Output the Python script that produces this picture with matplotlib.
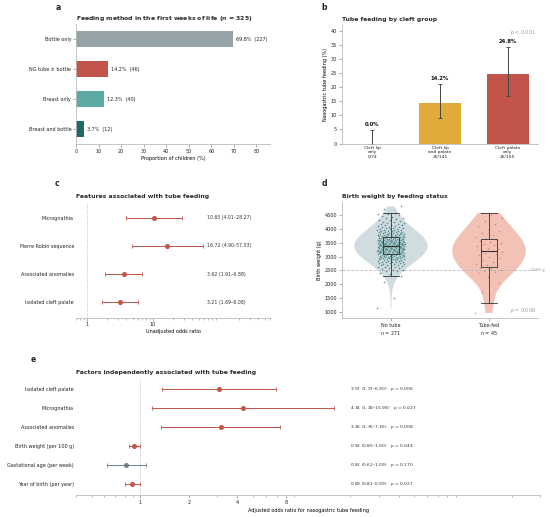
import numpy as np
import matplotlib
matplotlib.use("Agg")
import matplotlib.pyplot as plt
import matplotlib.transforms as mtransforms

# ---- data ----
feed_labels = ['Bottle only', 'NG tube ± bottle', 'Breast only', 'Breast and bottle']
feed_pct = [69.8, 14.2, 12.3, 3.7]
feed_n = [227, 46, 40, 12]
feed_colors = ['#95A3A8', '#C2544A', '#5DAAA3', '#1E6B66']

cleft_labels = ['Cleft lip\nonly\n0/74', 'Cleft lip\nand palate\n20/141', 'Cleft palate\nonly\n26/105']
cleft_pct = [0.0, 14.2, 24.8]
cleft_lo = [0.0, 9.0, 17.0]
cleft_hi = [4.9, 21.1, 34.2]
cleft_colors = ['#9AA7AD', '#E2A93B', '#C2544A']

unadj_labels = ['Micrognathia', 'Pierre Robin sequence', 'Associated anomalies', 'Isolated cleft palate']
unadj_or = [10.65, 16.72, 3.62, 3.21]
unadj_lo = [4.01, 4.90, 1.91, 1.69]
unadj_hi = [28.27, 57.03, 6.88, 6.08]

adj_labels = ['Isolated cleft palate', 'Micrognathia', 'Associated anomalies',
              'Birth weight (per 100 g)', 'Gestational age (per week)', 'Year of birth (per year)']
adj_or = [3.07, 4.34, 3.16, 0.92, 0.82, 0.89]
adj_lo = [1.37, 1.18, 1.35, 0.85, 0.62, 0.81]
adj_hi = [6.90, 15.98, 7.36, 1.00, 1.09, 0.99]
adj_p = ['0.006', '0.027', '0.008', '0.044', '0.170', '0.027']

# birth weights (g), estimated from the strip / violin / box
bw_no_tube = [
    1150, 1500, 2100,
    2290, 2360,
    2420, 2465, 2490,
    2505, 2530, 2560, 2580, 2595,
    2608, 2625, 2640, 2660, 2672, 2685, 2698,
    2702, 2715, 2726, 2740, 2750, 2763, 2775, 2786, 2795,
    2800, 2810, 2818, 2830, 2840, 2850, 2858, 2866, 2878, 2886, 2895,
    2900, 2906, 2915, 2920, 2930, 2936, 2945, 2950, 2958, 2966, 2972, 2980, 2988, 2995,
    3000, 3005, 3012, 3018, 3025, 3030, 3035, 3042, 3050, 3055, 3060, 3068, 3074, 3080, 3086, 3092, 3098,
    3100, 3104, 3109, 3114, 3118, 3122, 3128, 3132, 3137, 3142, 3148, 3150, 3155, 3160, 3166, 3170, 3175,
    3180, 3186, 3190, 3196,
    3200, 3204, 3208, 3212, 3216, 3220, 3225, 3230, 3234, 3238, 3242, 3248, 3252, 3256, 3260, 3265, 3270,
    3276, 3280, 3286, 3290, 3296,
    3300, 3304, 3308, 3312, 3316, 3320, 3324, 3328, 3332, 3336, 3340, 3345, 3350, 3354, 3358, 3362, 3368,
    3372, 3376, 3380, 3386, 3390, 3396,
    3400, 3404, 3408, 3412, 3416, 3420, 3425, 3430, 3434, 3438, 3442, 3446, 3450, 3455, 3460, 3465, 3470,
    3475, 3480, 3485, 3490, 3494, 3498,
    3500, 3505, 3510, 3514, 3518, 3522, 3526, 3530, 3535, 3540, 3545, 3550, 3555, 3560, 3565, 3570, 3575,
    3580, 3585, 3590, 3594, 3598,
    3600, 3605, 3610, 3615, 3620, 3625, 3630, 3635, 3640, 3645, 3650, 3656, 3662, 3668, 3674, 3680, 3685,
    3690, 3695, 3699,
    3702, 3710, 3716, 3722, 3730, 3736, 3742, 3750, 3756, 3764, 3770, 3778, 3785, 3790, 3795, 3799,
    3805, 3812, 3820, 3830, 3838, 3846, 3855, 3864, 3872, 3880, 3890, 3898,
    3905, 3915, 3925, 3936, 3945, 3955, 3965, 3975, 3986, 3995,
    4008, 4020, 4032, 4045, 4058, 4070, 4084, 4096,
    4110, 4125, 4140, 4158, 4172, 4190,
    4212, 4230, 4250, 4270, 4290,
    4315, 4340, 4365, 4390,
    4420, 4450, 4480,
    4510, 4535, 4560,
    4700, 4790,
]
bw_tube = [
    980, 1320, 1720, 2060, 2280, 2410, 2450, 2490, 2520, 2550,
    2580, 2610, 2680, 2740, 2800, 2870, 2930, 2990, 3040, 3090,
    3130, 3160, 3180, 3220, 3270, 3320, 3360, 3400, 3440, 3480,
    3520, 3560, 3600, 3640, 3690, 3760, 3840, 3920, 4000, 4080,
    4180, 4280, 4380, 4470, 4560,
]
bw_groups = ['No tube\n$n$ = 271', 'Tube-fed\n$n$ = 45']

# ---- styling ----
W, H = 550, 517
fs_tick = 3.5
fs_lab = 3.6
fs_title = 4.4
fs_panel = 5.5
spine_c = '#BBBBBB'
red = '#C2544A'

plt.rcParams['font.family'] = ['DejaVu Sans']
plt.rcParams['axes.linewidth'] = 0.6
plt.rcParams['xtick.major.width'] = 0.5
plt.rcParams['ytick.major.width'] = 0.5
plt.rcParams['xtick.major.size'] = 2
plt.rcParams['ytick.major.size'] = 2
plt.rcParams['xtick.minor.size'] = 1.2
plt.rcParams['xtick.minor.width'] = 0.4
plt.rcParams['xtick.color'] = '#888888'
plt.rcParams['ytick.color'] = '#888888'
plt.rcParams['xtick.labelcolor'] = '#222222'
plt.rcParams['ytick.labelcolor'] = '#222222'
plt.rcParams['xtick.major.pad'] = 1.5
plt.rcParams['ytick.major.pad'] = 1.5


def px_axes(l, t, r, b):
    return fig.add_axes([l / W, 1 - b / H, (r - l) / W, (b - t) / H])


def style(ax, left=True):
    for s in ['top', 'right']:
        ax.spines[s].set_visible(False)
    ax.spines['left'].set_visible(left)
    ax.spines['left'].set_color(spine_c)
    ax.spines['bottom'].set_color(spine_c)
    ax.tick_params(labelsize=fs_tick)


fig = plt.figure(figsize=(W / 100, H / 100), dpi=100)

# ---- a ----
ax = px_axes(76, 24, 270, 144)
style(ax)
y = np.arange(len(feed_labels))
ax.barh(y, feed_pct, height=0.55, color=feed_colors)
for yi, v, n in zip(y, feed_pct, feed_n):
    ax.text(v + 1.3, yi, f'{v}%  ({n})', va='center', ha='left', fontsize=fs_tick, color='#222222')
ax.set_yticks(y, feed_labels)
ax.set_ylim(3.5, -0.5)
ax.set_xlim(0, 86)
ax.set_xticks(np.arange(0, 90, 10))
ax.set_xlabel('Proportion of children (%)', fontsize=fs_lab, labelpad=1.5)
ax.set_title('Feeding method in the first weeks of life ($\\mathbfit{n}$ = 325)', loc='left',
             fontsize=fs_title, fontweight='bold', color='#2B2B2B', pad=3)

# ---- b ----
ax = px_axes(342, 25, 538, 143.5)
style(ax)
x = np.arange(len(cleft_labels))
ax.bar(x, cleft_pct, width=0.62, color=cleft_colors)
err = [np.array(cleft_pct) - np.array(cleft_lo), np.array(cleft_hi) - np.array(cleft_pct)]
ax.errorbar(x, cleft_pct, yerr=err, fmt='none', ecolor='#444444', elinewidth=0.7, capsize=1.5, capthick=0.6)
for xi, v, hi in zip(x, cleft_pct, cleft_hi):
    ax.text(xi, hi + 0.9, f'{v:.1f}%', ha='center', va='bottom', fontsize=fs_tick + 0.3, fontweight='bold', color='#111111')
ax.set_xticks(x, cleft_labels)
ax.tick_params(axis='x', length=0, labelsize=3.2)
ax.set_xlim(-0.45, 2.45)
ax.set_ylim(0, 42)
ax.set_yticks(np.arange(0, 45, 5))
ax.set_ylabel('Nasogastric tube feeding (%)', fontsize=fs_lab, labelpad=2)
ax.text(0.99, 0.975, '$p$ < 0.001', transform=ax.transAxes, ha='right', va='top', fontsize=fs_tick, color='#999999')
ax.set_title('Tube feeding by cleft group', loc='left', fontsize=fs_title, fontweight='bold', color='#2B2B2B', pad=3)

# ---- c ----
ax = px_axes(76, 202.5, 270, 317.5)
style(ax, left=False)
yc = np.arange(len(unadj_labels))
ax.set_xscale('log')
ax.axvline(1, color='#AAAAAA', lw=0.6, ls=':', zorder=1)
ax.errorbar(unadj_or, yc, xerr=[np.array(unadj_or) - np.array(unadj_lo), np.array(unadj_hi) - np.array(unadj_or)],
            fmt='o', color=red, ms=2.6, elinewidth=0.7, capsize=1.3, capthick=0.6, zorder=3)
for yi, o, lo, hi in zip(yc, unadj_or, unadj_lo, unadj_hi):
    ax.text(66, yi, f'{o:.2f} ({lo:.2f}–{hi:.2f})', va='center', ha='left', fontsize=fs_tick - 0.2, color='#333333')
ax.set_yticks(yc, unadj_labels)
ax.tick_params(axis='y', length=0)
ax.set_ylim(3.55, -0.55)
ax.set_xlim(0.69, 600)
ax.set_xticks([1, 10], ['1', '10'])
ax.set_xlabel('Unadjusted odds ratio', fontsize=fs_lab, labelpad=1.5)
ax.set_title('Features associated with tube feeding', loc='left', fontsize=fs_title, fontweight='bold', color='#2B2B2B', pad=3)

# ---- d ----
ax = px_axes(342, 202, 538, 318)
style(ax)
data = [np.array(bw_no_tube), np.array(bw_tube)]
violin_colors = ['#CFDAE0', '#F2BFB3']
for i, (d, bwm) in enumerate(zip(data, [0.8, 0.55])):
    vp = ax.violinplot([d], positions=[i], widths=0.75, showextrema=False, bw_method=bwm)
    for body in vp['bodies']:
        body.set_facecolor(violin_colors[i])
        body.set_edgecolor('none')
        body.set_alpha(0.95)
pt_colors = ['#1E6B66', '#D9705F']
for i, d in enumerate(data):
    jit = ((np.arange(len(d)) * 0.618034) % 1 - 0.5) * 0.28
    ax.scatter(i + jit, d, s=1.5, color=pt_colors[i], alpha=0.65, linewidths=0, zorder=3)
ax.boxplot(data, positions=[0, 1], widths=0.17, capwidths=0.17, showfliers=False, patch_artist=True,
           boxprops=dict(facecolor='none', edgecolor='#333333', linewidth=0.6),
           medianprops=dict(color='#333333', linewidth=0.8),
           whiskerprops=dict(color='#333333', linewidth=0.6),
           capprops=dict(color='#333333', linewidth=0.6), zorder=4)
ax.axhline(2500, color='#BBBBBB', lw=0.6, ls='--', zorder=2)
ax.text(1.035, 2500, '2500 g', transform=mtransforms.blended_transform_factory(ax.transAxes, ax.transData),
        ha='right', va='center', fontsize=2.8, color='#999999')
ax.text(0.99, 0.03, '$p$ = 0.008', transform=ax.transAxes, ha='right', va='bottom', fontsize=fs_tick, color='#999999')
ax.set_xticks([0, 1], bw_groups)
ax.set_xlim(-0.5, 1.5)
ax.set_ylim(800, 4950)
ax.set_yticks(np.arange(1000, 5000, 500))
ax.set_ylabel('Birth weight (g)', fontsize=fs_lab, labelpad=2)
ax.set_title('Birth weight by feeding status', loc='left', fontsize=fs_title, fontweight='bold', color='#2B2B2B', pad=3)

# ---- e ----
ax = px_axes(76, 378, 540, 495)
style(ax, left=False)
ye = np.arange(len(adj_labels))
ax.set_xscale('log')
ax.axvline(1, color='#AAAAAA', lw=0.6, ls=':', zorder=1)
for yi, o, lo, hi, p in zip(ye, adj_or, adj_lo, adj_hi, adj_p):
    c = red if float(p) < 0.05 else '#6E7E8C'
    ax.errorbar([o], [yi], xerr=[[o - lo], [hi - o]], fmt='o', color=c, ms=2.6,
                elinewidth=0.7, capsize=1.3, capthick=0.6, zorder=3)
    ax.text(20, yi, f'{o:.2f} ({lo:.2f}–{hi:.2f})   $p$ = {p}', va='center', ha='left',
            fontsize=fs_tick - 0.3, color='#333333')
ax.set_yticks(ye, adj_labels)
ax.tick_params(axis='y', length=0)
ax.set_ylim(5.6, -0.6)
ax.set_xlim(0.4, 300)
ax.set_xticks([1, 2, 4, 8], ['1', '2', '4', '8'])
ax.set_xlabel('Adjusted odds ratio for nasogastric tube feeding', fontsize=fs_lab, labelpad=2)
ax.set_title('Factors independently associated with tube feeding', loc='left', fontsize=fs_title,
             fontweight='bold', color='#2B2B2B', pad=3)

# panel letters
for lab, (px, py) in zip('abcde', [(58, 8), (324, 8), (57, 183), (324, 183), (33, 360)]):
    fig.text(px / W, 1 - py / H, lab, fontsize=fs_panel, fontweight='bold', ha='center', va='center', color='#222222')

fig.savefig('out.png', dpi=100)
